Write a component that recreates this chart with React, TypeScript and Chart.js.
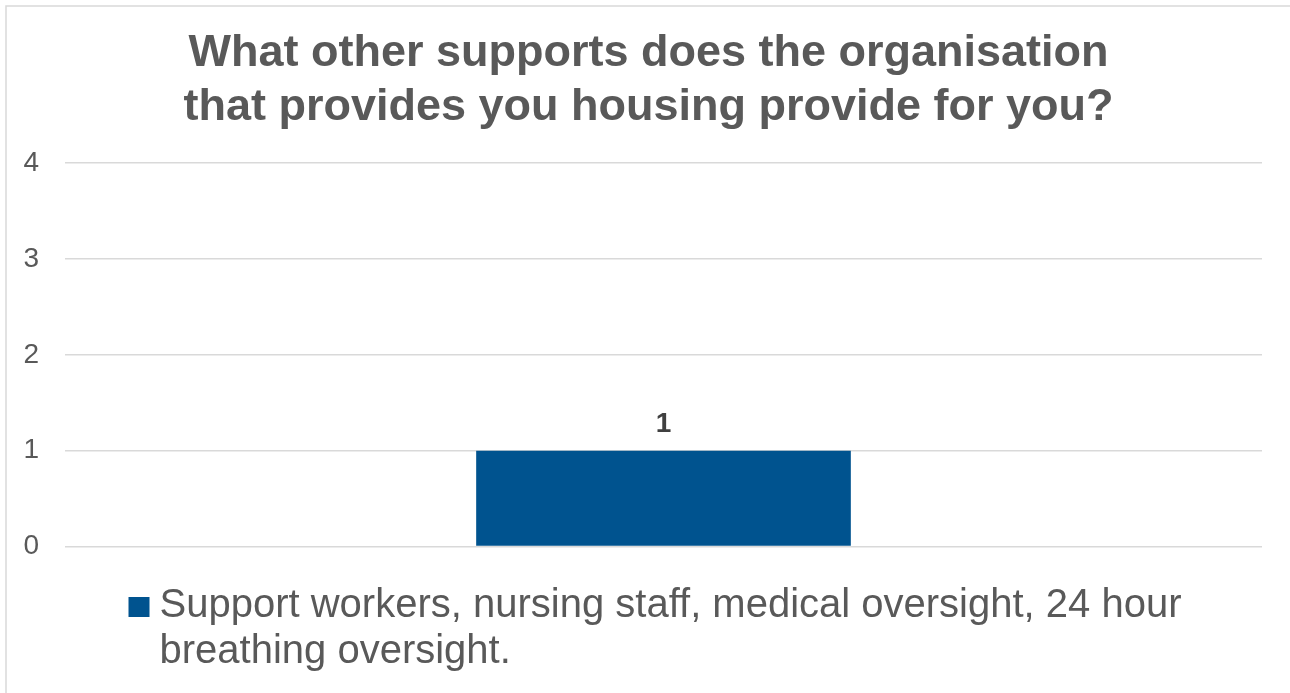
import React, { useEffect, useRef } from "react";
import { Chart, registerables } from "chart.js";

Chart.register(...registerables);

const titleLines = [
  "What other supports does the organisation",
  "that provides you housing provide for you?",
];
const categories = [""];
const seriesLabel =
  "Support workers, nursing staff, medical oversight, 24 hour breathing oversight.";
const seriesValues = [1];
const yTicks = [0, 1, 2, 3, 4];

const FONT = "'Liberation Sans', Arial, sans-serif";
const TEXT = "#595959";
const BAR = "#00538f";

const framePlugin = {
  id: "frame",
  beforeDraw(chart: any) {
    const ctx = chart.ctx;
    ctx.save();
    ctx.fillStyle = "#ffffff";
    ctx.fillRect(0, 0, chart.width, chart.height);
    ctx.strokeStyle = "#d9d9d9";
    ctx.lineWidth = 1.5;
    ctx.strokeRect(6, 6, chart.width + 20, chart.height + 20);
    ctx.restore();
  },
};

const labelPlugin = {
  id: "valueLabels",
  afterDatasetsDraw(chart: any) {
    const ctx = chart.ctx;
    ctx.save();
    ctx.font = `bold 28px ${FONT}`;
    ctx.fillStyle = "#404040";
    ctx.textAlign = "center";
    ctx.textBaseline = "alphabetic";
    chart.data.datasets.forEach((ds: any, i: number) => {
      const meta = chart.getDatasetMeta(i);
      meta.data.forEach((el: any, j: number) => {
        ctx.fillText(String(ds.data[j]), el.x, el.y - 19);
      });
    });
    ctx.restore();
  },
};

const legendPlugin = {
  id: "wrapLegend",
  afterDraw(chart: any) {
    const ctx = chart.ctx;
    const ds = chart.data.datasets[0];
    ctx.save();
    ctx.font = `40px ${FONT}`;
    const maxW = 1100;
    const words = String(ds.label).split(" ");
    const lines: string[] = [];
    let cur = "";
    words.forEach((w) => {
      const test = cur ? cur + " " + w : w;
      if (ctx.measureText(test).width > maxW && cur) {
        lines.push(cur);
        cur = w;
      } else cur = test;
    });
    if (cur) lines.push(cur);
    const textW = Math.max(...lines.map((l) => ctx.measureText(l).width));
    const box = 21;
    const gap = 10;
    const total = box + gap + textW;
    const cx = 655;
    const x0 = cx - total / 2;
    const baseline0 = 617;
    const lh = 46;
    ctx.fillStyle = ds.backgroundColor;
    ctx.fillRect(x0, baseline0 - 20, box, box - 1);
    ctx.fillStyle = TEXT;
    ctx.textAlign = "left";
    ctx.textBaseline = "alphabetic";
    lines.forEach((l, i) => {
      ctx.fillText(l, x0 + box + gap, baseline0 + i * lh);
    });
    ctx.restore();
  },
};

export default function App() {
  const ref = useRef<HTMLCanvasElement | null>(null);
  useEffect(() => {
    if (!ref.current) return;
    const chart = new Chart(ref.current, {
      type: "bar",
      data: {
        labels: categories,
        datasets: [
          {
            label: seriesLabel,
            data: seriesValues,
            backgroundColor: BAR,
            borderWidth: 0,
            categoryPercentage: 1,
            barPercentage: 0.313,
            yAxisID: "y",
          },
        ],
      },
      options: {
        animation: false,
        responsive: true,
        maintainAspectRatio: false,
        layout: { padding: { left: 23, right: 16, top: 0, bottom: 146.5 } },
        plugins: {
          legend: { display: false },
          tooltip: { enabled: false },
          title: {
            display: true,
            text: titleLines,
            color: TEXT,
            font: { family: FONT, size: 45, weight: "bold", lineHeight: 1.18 },
            padding: { top: 27.5, bottom: 29.5 },
          },
        },
        scales: {
          x: { display: false },
          y: {
            position: "left",
            min: 0,
            max: 4,
            afterBuildTicks: (axis: any) => {
              axis.ticks = yTicks.map((v) => ({ value: v }));
            },
            afterFit: (axis: any) => {
              axis.width = 42;
            },
            ticks: {
              color: TEXT,
              font: { family: FONT, size: 28 },
              padding: 26,
              stepSize: 1,
            },
            grid: { color: "#d9d9d9", lineWidth: 1.5, drawTicks: false },
            border: { display: false },
          },
          yRight: {
            position: "right",
            min: 0,
            max: 4,
            afterFit: (axis: any) => {
              axis.width = 12;
            },
            ticks: { display: false },
            grid: { display: false, drawTicks: false },
            border: { display: false },
          },
        },
      },
      plugins: [framePlugin, labelPlugin, legendPlugin],
    });
    return () => chart.destroy();
  }, []);
  return (
    <div style={{ position: "absolute", left: 0, top: 0, width: 1290, height: 693 }}>
      <canvas ref={ref} />
    </div>
  );
}
